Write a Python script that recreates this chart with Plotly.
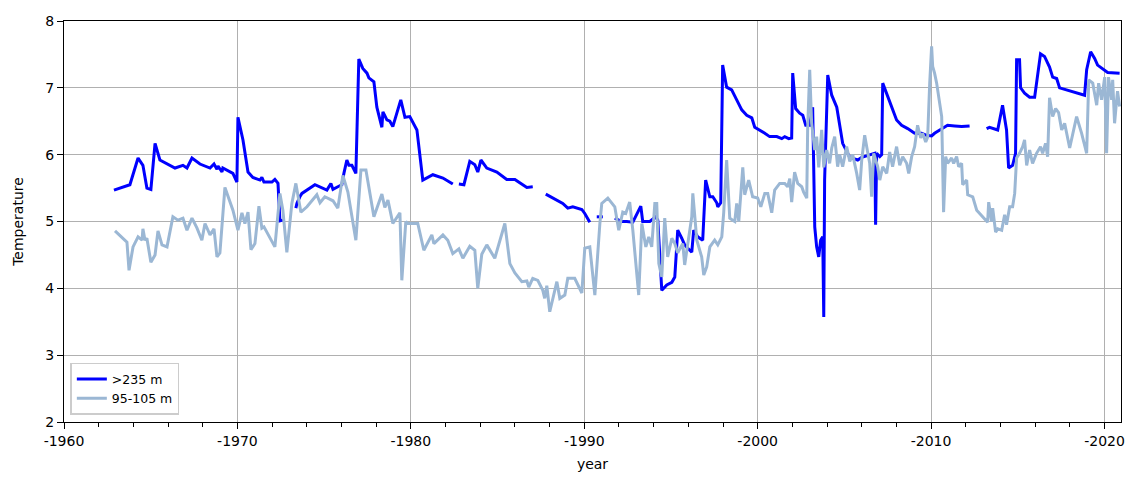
import plotly.graph_objects as go

# ---- data: deep series (>235 m); None marks gaps in the record ----
deep_year = [1962.88, 1963.63, 1963.80, 1964.27, 1964.55, 1964.78, 1965.01, 1965.25, 1965.53, 1966.40,
             1966.86, 1967.09, 1967.38, 1967.84, 1968.42, 1968.65, 1968.82, 1968.88, 1969.11, 1969.16,
             1969.40, 1969.74, 1969.97, 1970.03, 1970.32, 1970.61, 1970.89, 1971.30, 1971.41, 1971.53,
             1971.99, 1972.16, 1972.34, 1972.45, 1972.62, 1973.00,
             1973.37, 1973.43, 1973.60, 1973.72, 1974.47, 1974.87, 1975.16, 1975.39, 1975.51, 1975.79,
             1976.02, 1976.14, 1976.31, 1976.43, 1976.60, 1976.83, 1977.00, 1977.23, 1977.47, 1977.58,
             1977.87, 1978.04, 1978.33, 1978.39, 1978.62, 1978.79, 1978.96, 1979.42, 1979.66, 1979.94,
             1980.35, 1980.69, 1981.27, 1981.85, 1982.42, 1982.60,
             1982.77, 1983.06, 1983.40, 1983.69, 1983.86, 1984.04, 1984.38, 1984.96, 1985.53, 1986.00,
             1986.28, 1986.69, 1987.03, 1987.40,
             1987.78, 1988.30, 1988.76, 1989.05, 1989.34, 1989.86, 1990.03, 1990.32, 1990.50,
             1990.72, 1991.07, 1991.40,
             1991.76, 1992.16, 1992.45, 1992.80, 1993.26, 1993.37, 1993.78, 1994.12, 1994.24, 1994.47,
             1994.76, 1995.05, 1995.22, 1995.33, 1995.39, 1995.62, 1995.79, 1995.97, 1996.20, 1996.31,
             1996.54, 1996.83, 1997.00, 1997.24, 1997.41, 1997.64, 1997.70, 1997.87, 1997.98, 1998.21,
             1998.50, 1998.79, 1999.08, 1999.37, 1999.66, 1999.83, 2000.12, 2000.41, 2000.69, 2001.10,
             2001.39, 2001.56, 2001.79, 2001.96, 2002.02, 2002.19, 2002.42, 2002.60, 2002.77, 2003.00,
             2003.17, 2003.29, 2003.40, 2003.52, 2003.63, 2003.75, 2003.81, 2003.86, 2004.04, 2004.27,
             2004.56, 2004.73, 2004.90, 2005.31, 2005.77, 2006.00, 2006.75, 2006.80, 2006.86, 2007.04,
             2007.15, 2007.21, 2007.44, 2007.73, 2008.01, 2008.30, 2008.65, 2009.05, 2009.45, 2009.74,
             2010.03, 2010.20, 2010.61, 2010.95, 2011.36, 2011.76, 2012.22, 2012.70,
             2013.20, 2013.37, 2013.84, 2014.12, 2014.35, 2014.47, 2014.70, 2014.87, 2014.93, 2015.10,
             2015.16, 2015.39, 2015.68, 2015.97, 2016.31, 2016.54, 2016.83, 2017.01, 2017.24, 2017.41,
             2018.85, 2018.97, 2019.20, 2019.43, 2019.60, 2019.89, 2020.18, 2020.87]
deep_temp = [5.47, 5.53, 5.55, 5.95, 5.84, 5.50, 5.48, 6.17, 5.92, 5.80,
             5.84, 5.80, 5.95, 5.86, 5.80, 5.86, 5.78, 5.83, 5.74, 5.80,
             5.77, 5.72, 5.59, 6.56, 6.22, 5.74, 5.66, 5.62, 5.66, 5.59,
             5.59, 5.63, 5.57, 5.01, 5.02, None,
             5.20, 5.27, 5.37, 5.42, 5.55, 5.50, 5.47, 5.57, 5.48, 5.52,
             5.55, 5.72, 5.92, 5.84, 5.84, 5.72, 7.43, 7.29, 7.22, 7.15,
             7.09, 6.71, 6.41, 6.64, 6.52, 6.50, 6.42, 6.82, 6.56, 6.57,
             6.37, 5.62, 5.70, 5.65, 5.56, None,
             5.56, 5.55, 5.90, 5.85, 5.74, 5.92, 5.80, 5.74, 5.63, 5.63,
             5.58, 5.51, 5.52, None,
             5.41, 5.34, 5.27, 5.20, 5.22, 5.18, 5.12, 4.99, None,
             5.07, 5.07, None,
             5.05, 5.00, 5.00, 4.99, 5.23, 5.00, 5.00, 5.07, 5.02, 3.97,
             4.05, 4.09, 4.17, 4.57, 4.87, 4.75, 4.65, 4.60, 4.54, 4.87,
             4.77, 4.72, 5.62, 5.37, 5.37, 5.28, 5.22, 5.28, 7.34, 7.01,
             6.97, 6.82, 6.67, 6.59, 6.55, 6.41, 6.37, 6.32, 6.27, 6.27,
             6.24, 6.27, 6.24, 6.25, 7.22, 6.69, 6.62, 6.59, 6.44, 6.44,
             6.71, 4.92, 4.62, 4.47, 4.72, 4.77, 3.57, 5.62, 7.19, 6.89,
             6.71, 6.44, 6.17, 5.96, 5.92, 5.96, 6.02, 4.95, 6.02, 5.97,
             6.00, 7.07, 6.92, 6.72, 6.52, 6.44, 6.39, 6.32, 6.32, 6.29,
             6.28, 6.32, 6.39, 6.44, 6.43, 6.42, 6.43, None,
             6.39, 6.41, 6.37, 6.74, 6.37, 5.80, 5.84, 6.02, 7.42, 7.42,
             7.00, 6.92, 6.86, 6.86, 7.51, 7.47, 7.31, 7.16, 7.14, 7.00,
             6.89, 7.27, 7.54, 7.44, 7.34, 7.29, 7.23, 7.22]

# ---- data: 95-105 m series ----
mid_year = [1962.94, 1963.63, 1963.75, 1963.98, 1964.27, 1964.50, 1964.55, 1964.67, 1964.78, 1965.01,
            1965.25, 1965.42, 1965.65, 1965.94, 1966.28, 1966.57, 1966.86, 1967.09, 1967.38, 1967.67,
            1967.95, 1968.13, 1968.42, 1968.65, 1968.82, 1968.99, 1969.28, 1969.74, 1970.03, 1970.26,
            1970.43, 1970.61, 1970.78, 1971.01, 1971.24, 1971.41, 1971.53, 1972.16, 1972.45, 1972.62,
            1972.85, 1973.14, 1973.37, 1973.66, 1974.01, 1974.58, 1974.76, 1975.04, 1975.51, 1975.79,
            1976.08, 1976.37, 1976.83, 1977.12, 1977.41, 1977.87, 1978.33, 1978.50, 1978.68, 1978.96,
            1979.37, 1979.48, 1979.71, 1979.83, 1980.40, 1980.75, 1981.21, 1981.33, 1981.85, 1982.13,
            1982.42, 1982.77, 1983.00, 1983.40, 1983.69, 1983.86, 1984.09, 1984.38, 1984.84, 1985.42,
            1985.71, 1986.00, 1986.40, 1986.69, 1986.80, 1987.03, 1987.32, 1987.61, 1987.72, 1987.84,
            1988.01, 1988.30, 1988.42, 1988.59, 1988.88, 1989.05, 1989.45, 1989.86, 1990.03, 1990.32,
            1990.61, 1990.90, 1991.01, 1991.36, 1991.76, 1991.99, 1992.22, 1992.39, 1992.62, 1992.80,
            1993.14, 1993.32, 1993.55, 1993.72, 1993.89, 1994.07, 1994.18, 1994.30, 1994.47, 1994.64,
            1994.81, 1995.05, 1995.22, 1995.39, 1995.68, 1995.79, 1995.97, 1996.20, 1996.26, 1996.49,
            1996.77, 1996.89, 1997.06, 1997.24, 1997.52, 1997.70, 1997.93, 1998.04, 1998.21, 1998.39,
            1998.56, 1998.68, 1998.79, 1998.91, 1999.14, 1999.25, 1999.48, 1999.71, 2000.00, 2000.18,
            2000.41, 2000.58, 2000.81, 2000.98, 2001.27, 2001.56, 2001.73, 2001.85, 2001.96, 2002.13,
            2002.31, 2002.54, 2002.65, 2002.83, 2002.88, 2003.00, 2003.11, 2003.29, 2003.40, 2003.52,
            2003.69, 2003.81, 2003.98, 2004.15, 2004.27, 2004.44, 2004.61, 2004.73, 2004.90, 2005.13,
            2005.31, 2005.48, 2005.71, 2005.88, 2006.00, 2006.17, 2006.34, 2006.46, 2006.57, 2006.69,
            2006.92, 2007.04, 2007.21, 2007.44, 2007.61, 2007.78, 2008.01, 2008.19, 2008.36, 2008.59,
            2008.71, 2008.88, 2009.05, 2009.22, 2009.40, 2009.51, 2009.69, 2009.80, 2009.92, 2010.03,
            2010.09, 2010.20, 2010.32, 2010.44, 2010.55, 2010.61, 2010.72, 2010.84, 2010.95, 2011.18,
            2011.30, 2011.47, 2011.59, 2011.76, 2011.82, 2012.05, 2012.11, 2012.40, 2012.63, 2012.97,
            2013.26, 2013.32, 2013.49, 2013.55, 2013.72, 2013.84, 2014.07, 2014.24, 2014.35, 2014.53,
            2014.70, 2014.82, 2014.93, 2015.10, 2015.28, 2015.39, 2015.51, 2015.68, 2015.85, 2016.08,
            2016.31, 2016.43, 2016.60, 2016.72, 2016.83, 2017.01, 2017.18, 2017.35, 2017.53, 2017.70,
            2017.99, 2018.39, 2018.68, 2018.97, 2019.09, 2019.32, 2019.55, 2019.66, 2019.83, 2020.01,
            2020.12, 2020.23, 2020.41, 2020.47, 2020.58, 2020.70, 2020.75, 2020.87]
mid_temp = [4.86, 4.69, 4.27, 4.62, 4.77, 4.72, 4.89, 4.72, 4.75, 4.39,
            4.50, 4.86, 4.65, 4.62, 5.07, 5.02, 5.05, 4.87, 5.05, 4.90,
            4.72, 4.97, 4.80, 4.89, 4.47, 4.53, 5.51, 5.17, 4.87, 5.13,
            4.97, 5.14, 4.58, 4.67, 5.23, 4.90, 4.92, 4.62, 5.42, 5.17,
            4.54, 5.27, 5.57, 5.14, 5.22, 5.40, 5.28, 5.37, 5.31, 5.20,
            5.69, 5.44, 4.72, 5.77, 5.77, 5.07, 5.41, 5.21, 5.32, 4.97,
            5.13, 4.12, 5.00, 4.97, 4.97, 4.57, 4.80, 4.67, 4.80, 4.72,
            4.52, 4.59, 4.45, 4.63, 4.57, 4.00, 4.51, 4.65, 4.45, 4.97,
            4.37, 4.23, 4.10, 4.11, 4.02, 4.15, 4.12, 3.97, 3.85, 4.04,
            3.65, 4.00, 4.10, 3.85, 3.90, 4.15, 4.15, 3.93, 4.60, 4.62,
            3.90, 4.97, 5.27, 5.35, 5.22, 4.87, 5.14, 5.12, 5.29, 4.87,
            3.90, 4.97, 4.62, 4.77, 4.62, 5.27, 5.27, 4.37, 4.17, 5.05,
            4.47, 4.75, 4.67, 4.53, 4.67, 4.35, 4.67, 5.07, 5.42, 4.72,
            4.47, 4.20, 4.32, 4.62, 4.72, 4.65, 4.77, 5.13, 5.92, 5.05,
            5.02, 5.00, 5.27, 5.00, 5.81, 5.40, 5.62, 5.37, 5.35, 5.22,
            5.42, 5.42, 5.13, 5.47, 5.57, 5.57, 5.52, 5.64, 5.29, 5.74,
            5.57, 5.52, 5.44, 5.35, 6.37, 7.27, 6.47, 6.07, 6.27, 5.81,
            6.37, 5.81, 6.07, 5.87, 6.10, 6.27, 5.82, 6.00, 5.82, 6.12,
            5.90, 6.00, 5.72, 5.47, 5.92, 6.29, 6.04, 5.87, 5.37, 6.02,
            5.82, 5.62, 5.82, 5.72, 6.04, 5.82, 6.12, 5.84, 5.97, 5.87,
            5.72, 5.97, 6.12, 6.44, 6.25, 6.32, 6.19, 6.26, 7.07, 7.62,
            7.32, 7.22, 7.07, 6.87, 6.69, 6.57, 5.14, 5.97, 5.87, 5.95,
            5.87, 5.97, 5.82, 5.87, 5.55, 5.62, 5.40, 5.37, 5.17, 5.07,
            4.99, 5.29, 5.00, 5.20, 4.84, 4.89, 4.87, 5.10, 4.95, 5.22,
            5.22, 5.42, 5.95, 6.02, 6.12, 6.22, 5.84, 6.07, 5.87, 6.02,
            6.12, 6.02, 6.17, 5.97, 6.85, 6.57, 6.69, 6.63, 6.37, 6.47,
            6.10, 6.57, 6.32, 6.02, 7.12, 7.07, 6.74, 7.07, 6.82, 7.16,
            6.02, 7.16, 6.82, 7.12, 6.47, 6.82, 6.95, 6.72]

x_tick_vals = [1960, 1970, 1980, 1990, 2000, 2010, 2020]
x_tick_text = ["-1960", "-1970", "-1980", "-1990", "-2000", "-2010", "-2020"]
y_tick_vals = [2, 3, 4, 5, 6, 7, 8]

FONT = "DejaVu Sans, Liberation Sans, sans-serif"

fig = go.Figure()
fig.add_trace(go.Scatter(x=deep_year, y=deep_temp, mode="lines", name=">235 m",
                         line=dict(color="#0000ff", width=3), connectgaps=False))
fig.add_trace(go.Scatter(x=mid_year, y=mid_temp, mode="lines", name="95-105 m",
                         line=dict(color="#9bb7d4", width=3)))

axis_common = dict(showline=True, linecolor="black", linewidth=1.2, mirror=True,
                   showgrid=True, gridcolor="#b0b0b0", gridwidth=1.3,
                   ticks="outside", ticklen=6, tickwidth=1.2, tickcolor="black",
                   tickfont=dict(family=FONT, size=14, color="black"), zeroline=False,
                   automargin=False)

fig.update_xaxes(range=[1960, 2020.95], tickvals=x_tick_vals, ticktext=x_tick_text,
                 minor=dict(dtick=2, ticks="outside", ticklen=3.5, tickcolor="black", showgrid=False),
                 title=dict(text="year", font=dict(family=FONT, size=14, color="black"), standoff=17),
                 **axis_common)
fig.update_yaxes(range=[2, 8], tickvals=y_tick_vals,
                 title=dict(text="Temperature", font=dict(family=FONT, size=14, color="black"), standoff=18),
                 **axis_common)

fig.update_layout(
    width=1122, height=464,
    margin=dict(l=56, r=9, t=13, b=50),
    paper_bgcolor="white", plot_bgcolor="white",
    font=dict(family=FONT, size=14, color="black"),
    legend=dict(x=0.006, y=0.018, xanchor="left", yanchor="bottom",
                bgcolor="rgba(255,255,255,0.8)", bordercolor="#cccccc", borderwidth=1.5,
                font=dict(family=FONT, size=12.5, color="black"), tracegroupgap=0,
                itemwidth=30),
    showlegend=True,
)

fig.write_html("out.html")
